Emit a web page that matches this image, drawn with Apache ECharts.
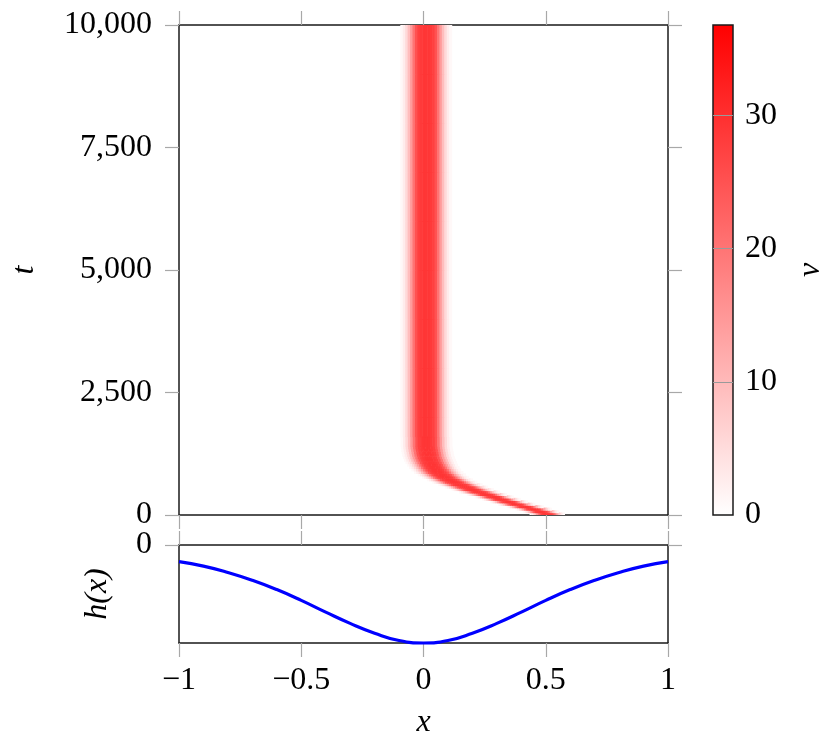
<!DOCTYPE html>
<html>
<head>
<meta charset="utf-8">
<script src="https://cdn.jsdelivr.net/npm/echarts@6/dist/echarts.min.js"></script>
<style>
  html, body { margin: 0; padding: 0; background: #fff; }
  #chart { width: 830px; height: 746px; }
</style>
</head>
<body>
<div id="chart"></div>
<script>
// band position over time (lower edge of each row in t, centre of the band in x)
const tRows = [0, 50, 100, 150, 200, 250, 300, 350, 400, 450, 500, 550, 600, 650, 700,
  750, 800, 850, 900, 950, 1000, 1050, 1100, 1150, 1200, 1250, 1300, 1350, 1400,
  1600, 2000, 3000, 4000, 5000, 6000, 7000, 8000, 9000]
const bandCenter = [0.505, 0.48, 0.45, 0.415, 0.38, 0.348, 0.318, 0.288, 0.258, 0.228, 0.2, 0.175, 0.15, 0.127, 0.107,
  0.089, 0.074, 0.061, 0.051, 0.043, 0.036, 0.03, 0.025, 0.021, 0.018, 0.016, 0.014, 0.012, 0.011,
  0.01, 0.01, 0.01, 0.01, 0.01, 0.01, 0.01, 0.01, 0.01]
// relative width of the band in each row
const bandWidth = [0.68, 0.69, 0.7, 0.71, 0.72, 0.73, 0.74, 0.75, 0.77, 0.79, 0.81, 0.83, 0.85, 0.87, 0.89,
  0.91, 0.93, 0.95, 0.96, 0.97, 0.98, 0.99, 1, 1, 1, 1, 1, 1, 1,
  1, 1, 1, 1, 1, 1, 1, 1, 1]
// cross-section of v across the band
const profileOffset = [-0.10, -0.09, -0.08, -0.07, -0.06, -0.05, -0.04, -0.03, -0.02, -0.01, 0,
  0.01, 0.02, 0.03, 0.04, 0.05, 0.06, 0.07, 0.08, 0.09, 0.10]
const profileValue = [1, 2.8, 5.5, 9.5, 14.5, 20, 25, 27.5, 28.5, 29, 29,
  29, 28.5, 27.5, 25, 20, 14.5, 9.5, 5.5, 2.8, 1]
const vMax = 36.8
const tTicks = [0, 2500, 5000, 7500, 10000]

// bottom panel h(x)
const hX = [-1, -0.9, -0.8, -0.7, -0.6, -0.5, -0.4, -0.3, -0.2, -0.1, 0,
  0.1, 0.2, 0.3, 0.4, 0.5, 0.6, 0.7, 0.8, 0.9, 1]
const hY = [-0.17, -0.215, -0.28, -0.36, -0.455, -0.565, -0.685, -0.8, -0.9, -0.975, -1,
  -0.975, -0.9, -0.8, -0.685, -0.565, -0.455, -0.36, -0.28, -0.215, -0.17]

const cellW = 0.01
const font = 'Liberation Serif'
const tickStyle = { color: '#a8a8a8', width: 1.2 }
const frameStyle = { color: '#1a1a1a', width: 1.5 }

const chart = echarts.init(document.getElementById('chart'))

// cells: [x, tLow, tHigh, v, cell width]
const cells = []
tRows.forEach((t, i) => {
  const tHigh = i + 1 < tRows.length ? tRows[i + 1] : 10000
  const s = bandWidth[i]
  profileOffset.forEach((off, j) => {
    cells.push([bandCenter[i] + off * s, t, tHigh, profileValue[j], cellW * s])
  })
})

const labelStyle = { fontFamily: font, fontSize: 32, color: '#000' }
const nameStyle = { fontFamily: font, fontSize: 32, fontStyle: 'italic', color: '#000' }
const minus = v => String(v).replace('-', '\u2212')

function frameAxis (extra) {
  return Object.assign({
    type: 'value',
    axisLine: { show: true, onZero: false, lineStyle: frameStyle },
    axisTick: { show: true, inside: false, length: 14, lineStyle: tickStyle },
    axisLabel: { show: false },
    splitLine: { show: false }
  }, extra)
}

const option = {
  animation: false,
  grid: [
    { left: 179, top: 25, width: 489, height: 490 },
    { left: 179, top: 545, width: 489, height: 98 },
    { left: 713, top: 25, width: 20, height: 490 }
  ],
  visualMap: {
    show: false,
    type: 'continuous',
    min: 0,
    max: vMax,
    dimension: 3,
    seriesIndex: 0,
    inRange: { color: ['#ffffff', '#ff0000'] }
  },
  xAxis: [
    frameAxis({ gridIndex: 0, position: 'bottom', min: -1, max: 1, interval: 0.5 }),
    frameAxis({ gridIndex: 0, position: 'top', min: -1, max: 1, interval: 0.5 }),
    frameAxis({
      gridIndex: 1, position: 'bottom', min: -1, max: 1, interval: 0.5,
      axisLabel: { show: true, margin: 22, formatter: minus, ...labelStyle },
      name: 'x', nameLocation: 'middle', nameGap: 64, nameTextStyle: nameStyle
    }),
    frameAxis({ gridIndex: 1, position: 'top', min: -1, max: 1, interval: 0.5 }),
    { type: 'value', gridIndex: 2, min: 0, max: 1, show: false }
  ],
  yAxis: [
    frameAxis({
      gridIndex: 0, position: 'left', min: 0, max: 10000, interval: 2500,
      axisLabel: {
        show: true, margin: 27, customValues: tTicks,
        formatter: v => v.toLocaleString('en-US'), ...labelStyle
      },
      axisTick: { show: true, length: 14, customValues: tTicks, lineStyle: tickStyle },
      name: 't', nameLocation: 'middle', nameGap: 138, nameRotate: 90, nameTextStyle: nameStyle
    }),
    frameAxis({ gridIndex: 0, position: 'right', min: 0, max: 10000, interval: 2500 }),
    frameAxis({
      gridIndex: 1, position: 'left', min: -1, max: 0,
      axisLabel: { show: true, margin: 27, customValues: [0], ...labelStyle },
      axisTick: { show: true, length: 14, customValues: [0], lineStyle: tickStyle },
      name: 'h(x)', nameLocation: 'middle', nameGap: 65, nameRotate: 90, nameTextStyle: nameStyle
    }),
    frameAxis({
      gridIndex: 1, position: 'right', min: -1, max: 0,
      axisTick: { show: true, length: 14, customValues: [0], lineStyle: tickStyle }
    }),
    {
      type: 'value', gridIndex: 2, position: 'right', min: 0, max: vMax, z: 5,
      axisLine: { show: false, onZero: false },
      axisTick: { show: true, inside: true, length: 20, customValues: [10, 20, 30], lineStyle: { color: '#9a9a9a', width: 1 } },
      axisLabel: { show: true, margin: 12, customValues: [0, 10, 20, 30], ...labelStyle },
      splitLine: { show: false },
      name: 'v', nameLocation: 'middle', nameGap: 62, nameRotate: 90, nameTextStyle: nameStyle
    }
  ],
  series: [
    {
      type: 'custom',
      xAxisIndex: 0,
      yAxisIndex: 0,
      clip: true,
      encode: { x: 0, y: [1, 2] },
      data: cells,
      renderItem (params, api) {
        const w = api.value(4)
        const p0 = api.coord([api.value(0) - w / 2, api.value(2)])
        const p1 = api.coord([api.value(0) + w / 2, api.value(1)])
        return {
          type: 'rect',
          shape: { x: p0[0], y: p0[1], width: p1[0] - p0[0] + 0.6, height: p1[1] - p0[1] + 0.6 },
          style: { fill: api.visual('color') }
        }
      }
    },
    {
      type: 'custom',
      xAxisIndex: 4,
      yAxisIndex: 4,
      data: [[0]],
      renderItem (params, api) {
        const p0 = api.coord([0, vMax])
        const p1 = api.coord([1, 0])
        return {
          type: 'rect',
          shape: { x: p0[0], y: p0[1], width: p1[0] - p0[0], height: p1[1] - p0[1] },
          style: {
            fill: new echarts.graphic.LinearGradient(0, 0, 0, 1, [
              { offset: 0, color: '#ff0000' },
              { offset: 1, color: '#ffffff' }
            ]),
            stroke: '#1a1a1a',
            lineWidth: 1.5
          }
        }
      }
    },
    {
      type: 'line',
      xAxisIndex: 2,
      yAxisIndex: 2,
      data: hX.map((x, i) => [x, hY[i]]),
      showSymbol: false,
      smooth: true,
      clip: false,
      lineStyle: { color: '#0000ff', width: 3.2 },
      z: 4
    }
  ]
}

chart.setOption(option)
</script>
</body>
</html>
